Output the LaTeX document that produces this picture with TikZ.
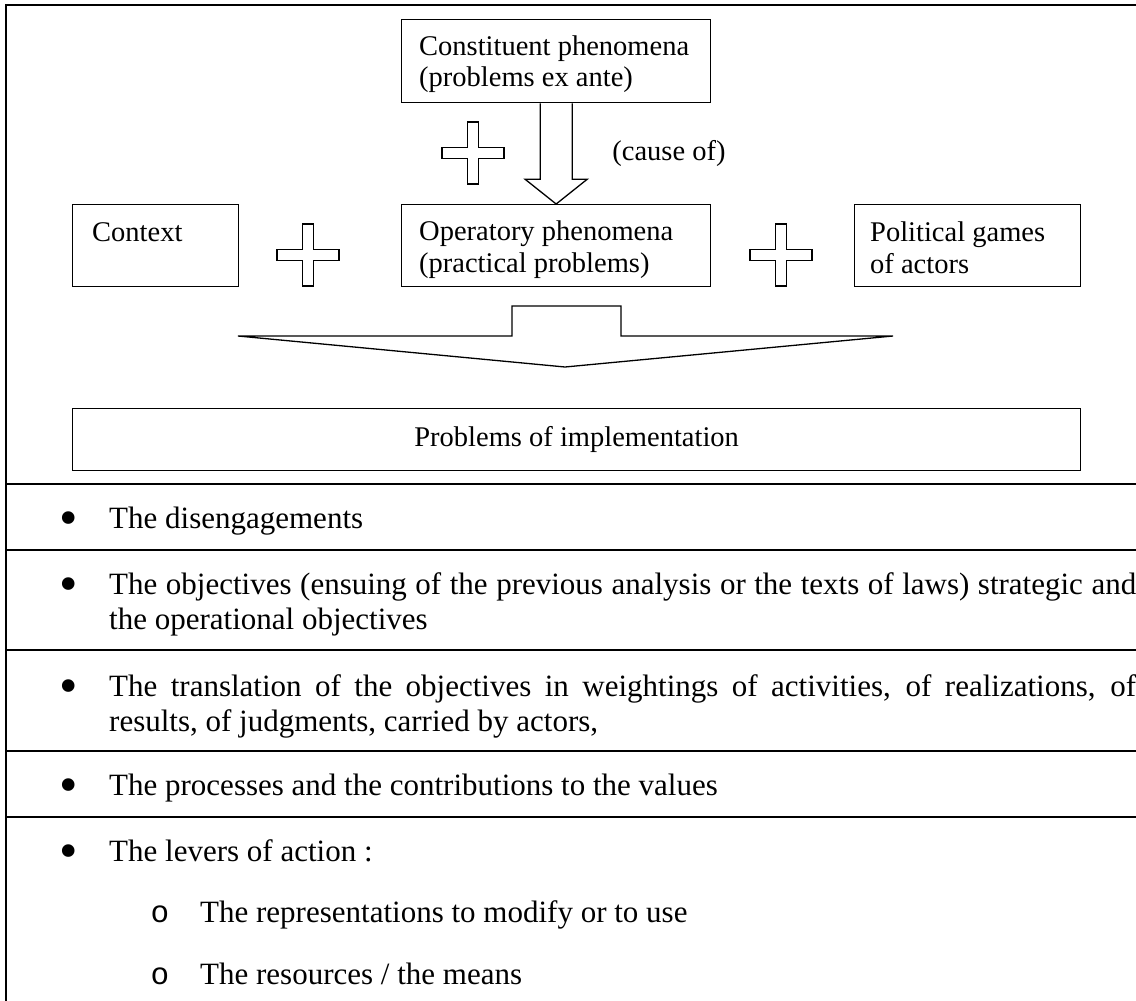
\documentclass[tikz,border=0pt]{standalone}
\usepackage{fontspec}
\setmainfont{Liberation Serif}
\newfontfamily\monofont{Liberation Mono}
\usetikzlibrary{calc}
\begin{document}
\begin{tikzpicture}[x=1pt,y=-1pt,
  box/.style={draw, line width=1.3pt, inner sep=0pt, anchor=north west},
  boxtext/.style={anchor=base west, inner sep=0pt, font=\fontsize{28.5}{32}\selectfont},
  rowtext/.style={anchor=base west, inner sep=0pt, font=\fontsize{31}{35}\selectfont},
  bul/.style={anchor=base, inner sep=0pt, yshift=-7pt, font=\fontsize{31}{35}\selectfont},
  subbul/.style={anchor=base, inner sep=0pt, font=\fontsize{31}{35}\selectfont\monofont},
  shapeline/.style={draw, line width=1.3pt, line join=miter, fill=white},
  rowrule/.style={line width=2pt},
  frameline/.style={line width=2.8pt, line join=miter},
  plussign/.pic={\draw[shapeline] (-5.5,-31) -- (5.5,-31) -- (5.5,-5.5) -- (31,-5.5) -- (31,5.5) -- (5.5,5.5) -- (5.5,31) -- (-5.5,31) -- (-5.5,5.5) -- (-31,5.5) -- (-31,-5.5) -- (-5.5,-5.5) -- cycle;}
]
\useasboundingbox (0,0) rectangle (1136,1001);
\newcommand{\bigbullet}{\scalebox{1.7}{•}}

% frame and table rules
\draw[frameline] (1136,5) -- (6,5) -- (6,1001);
\foreach \yy in {484,550,650,751,817} \draw[rowrule] (6,\yy) -- (1136,\yy);

% boxes
\node[box, minimum width=309pt, minimum height=83pt] (const) at (401,19) {};
\node[box, minimum width=309pt, minimum height=82pt] (op) at (401,204) {};
\node[box, minimum width=166pt, minimum height=82pt] (ctx) at (72,204) {};
\node[box, minimum width=226pt, minimum height=82pt] (pol) at (854,204) {};
\node[box, minimum width=1008pt, minimum height=62pt] (impl) at (72,408) {};

% box texts
\node[boxtext] (constT) at ($(const.north west)+(18,36)$) {\parbox[t]{300pt}{\raggedright Constituent phenomena\\(problems ex ante)}};
\node[boxtext] (opT) at ($(op.north west)+(18,36)$) {\parbox[t]{300pt}{\raggedright Operatory phenomena\\(practical problems)}};
\node[boxtext] (ctxT) at ($(ctx.north west)+(20,37)$) {Context};
\node[boxtext] (polT) at ($(pol.north west)+(16,37)$) {\parbox[t]{220pt}{\raggedright Political games\\of actors}};
\node[inner sep=0pt, font=\fontsize{28.5}{32}\selectfont] (implT) at (impl.center) {Problems of implementation};
\node[boxtext, anchor=base] (cause) at (669,160) {(cause of)};

% block arrow (cause of)
\draw[shapeline] ($(const.south)+(-16,0)$) -- ++(0,76) -- ++(-15,0) -- (op.north) -- ($(const.south)+(31,76)$) -- ++(-15,0) -- ($(const.south)+(16,0)$);

% broad arrow
\draw[shapeline] (238,336) -- (512,336) -- (512,306) -- (621,306) -- (621,336) -- (893,336) -- (565,367) -- cycle;

% plus signs
\pic (plusTop) at (473,153) {plussign};
\pic (plusLeft) at (308,255) {plussign};
\pic (plusRight) at (781,255) {plussign};

% table rows
\node[bul] (b1) at (69,528) {\bigbullet};
\node[rowtext] (r1) at (109,528) {The disengagements};
\node[bul] (b2) at (69,594) {\bigbullet};
\node[rowtext] (r2) at (109,594) {\parbox[t]{1027pt}{The objectives (ensuing of the previous analysis or the texts of laws) strategic and\linebreak the operational objectives}};
\node[bul] (b3) at (69,696) {\bigbullet};
\node[rowtext] (r3) at (109,696) {\parbox[t]{1027pt}{The translation of the objectives in weightings of activities, of realizations, of\linebreak results, of judgments, carried by actors,}};
\node[bul] (b4) at (69,795) {\bigbullet};
\node[rowtext] (r4) at (109,795) {The processes and the contributions to the values};
\node[bul] (b5) at (69,861) {\bigbullet};
\node[rowtext] (r5) at (109,861) {The levers of action :};
\node[subbul] (s1) at (160,922) {o};
\node[rowtext] (r6) at (200,922) {The representations to modify or to use};
\node[subbul] (s2) at (160,984) {o};
\node[rowtext] (r7) at (200,984) {The resources / the means};
\end{tikzpicture}
\end{document}
